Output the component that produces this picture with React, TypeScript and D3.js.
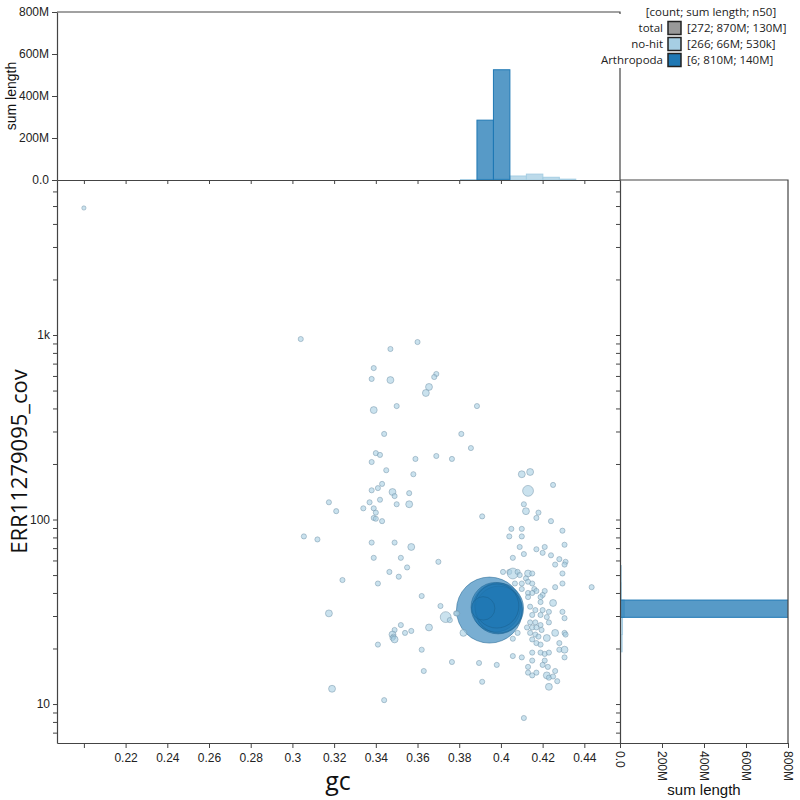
import React, { useEffect, useRef } from 'react';
import * as d3 from 'd3';

// no-hit contigs: [gc, coverage, length (Mb)]
const noHitContigs: [number, number, number][] = [
  [0.2, 4880, 0.1], [0.304, 951, 0.3], [0.347, 840, 0.3], [0.36, 916, 0.3], [0.339, 662, 0.3],
  [0.338, 578, 0.3], [0.347, 570, 1], [0.369, 615, 0.3], [0.368, 592, 0.3], [0.3655, 523, 1],
  [0.364, 485, 1], [0.339, 392, 1], [0.35, 412, 0.3], [0.3885, 412, 0.3], [0.344, 291, 0.3],
  [0.381, 291, 0.3], [0.3856, 244, 0.3], [0.34, 229, 0.3], [0.342, 224, 0.3], [0.338, 205, 0.3],
  [0.359, 213, 0.3], [0.369, 221, 0.3], [0.3765, 213, 0.3], [0.345, 185, 0.3], [0.358, 176, 0.3],
  [0.343, 156, 0.3], [0.341, 148, 0.3], [0.338, 144, 0.3], [0.348, 141, 1], [0.349, 134, 0.3],
  [0.356, 139, 0.3], [0.3175, 124, 0.3], [0.321, 111, 0.3], [0.337, 124, 0.3], [0.342, 128, 0.3],
  [0.334, 115, 0.3], [0.339, 115, 0.3], [0.34, 109, 0.3], [0.339, 102, 0.3], [0.34, 101, 0.3],
  [0.343, 98, 0.3], [0.35, 121, 0.3], [0.356, 121, 1], [0.3055, 81, 0.3], [0.312, 78, 0.3],
  [0.338, 75, 0.3], [0.349, 75, 0.3], [0.357, 71, 1], [0.339, 62, 0.3], [0.352, 62, 0.3],
  [0.37, 59, 0.3], [0.355, 55, 0.3], [0.3465, 52, 0.3], [0.351, 49, 0.3], [0.324, 47, 0.3],
  [0.341, 45, 0.3], [0.362, 38.5, 0.3], [0.371, 34, 0.3], [0.3175, 31, 1], [0.3735, 29.6, 4],
  [0.3755, 28.5, 0.3], [0.3785, 31, 0.3], [0.3655, 26, 1], [0.352, 26.8, 0.3], [0.349, 25.2, 0.3],
  [0.348, 23.8, 1], [0.3485, 23.2, 0.3], [0.348, 22.8, 0.3], [0.349, 22.4, 1], [0.354, 24.3, 0.3],
  [0.357, 24.9, 0.3], [0.341, 21, 0.3], [0.362, 19.7, 0.3], [0.3765, 16.9, 0.3], [0.363, 15.1, 0.3],
  [0.319, 12.1, 1], [0.344, 10.5, 0.3], [0.411, 8.4, 0.3], [0.382, 24.3, 1], [0.379, 31, 0.3],
  [0.3895, 16.7, 0.3], [0.398, 16.3, 0.3], [0.391, 13.2, 0.3],
  [0.41, 176, 1], [0.414, 181, 1], [0.425, 154, 0.3], [0.413, 143, 4], [0.411, 121, 0.3],
  [0.412, 111, 1], [0.418, 109, 0.3], [0.391, 104, 0.3], [0.417, 102, 0.3], [0.424, 98, 0.3],
  [0.405, 89, 0.3], [0.41, 89, 0.3], [0.4295, 87, 0.3], [0.404, 81, 0.3], [0.41, 81, 0.3],
  [0.4305, 73, 0.3], [0.409, 71, 0.3], [0.417, 69, 0.3], [0.421, 71, 0.3], [0.42, 66, 0.3],
  [0.424, 64, 0.3], [0.4057, 62, 0.3], [0.411, 65, 0.3], [0.428, 61, 0.3], [0.431, 59, 0.3],
  [0.4305, 57, 0.3], [0.426, 57, 0.3], [0.401, 52, 0.3], [0.404, 52, 0.3], [0.4057, 51, 4],
  [0.408, 52, 0.3], [0.409, 50, 0.3], [0.413, 51, 1], [0.415, 51, 0.3], [0.412, 48, 0.3],
  [0.413, 46, 0.3], [0.415, 45, 0.3], [0.41, 45, 0.3], [0.4067, 45, 0.3], [0.4295, 51, 0.3],
  [0.4295, 45, 0.3], [0.426, 43, 0.3], [0.4435, 43, 0.3], [0.41, 42, 0.3], [0.416, 42, 0.3],
  [0.417, 41, 0.3], [0.413, 40, 0.3], [0.415, 40, 0.3], [0.421, 41, 0.3], [0.42, 39, 0.3],
  [0.419, 38, 0.3], [0.413, 38, 0.3], [0.419, 35.7, 0.3], [0.425, 35.3, 1], [0.414, 33.7, 0.3],
  [0.4165, 32.3, 0.3], [0.42, 32.3, 0.3], [0.423, 31.6, 0.3], [0.4295, 31.6, 0.3], [0.415, 30.4, 0.3],
  [0.419, 30.4, 0.3], [0.422, 29.6, 0.3], [0.4305, 29.2, 0.3], [0.423, 27.7, 0.3], [0.414, 27.7, 0.3],
  [0.4165, 27.7, 0.3], [0.419, 26.8, 0.3], [0.4125, 26, 0.3], [0.415, 26, 0.3], [0.417, 26, 0.3],
  [0.4195, 25.2, 0.3], [0.426, 24.3, 1], [0.4305, 24.3, 0.3], [0.414, 24.3, 0.3], [0.4165, 23.8, 0.3],
  [0.418, 23.2, 0.3], [0.415, 22.4, 0.3], [0.422, 22.8, 1], [0.417, 21.4, 0.3], [0.419, 21, 0.3],
  [0.428, 21.4, 0.3], [0.428, 19.7, 0.3], [0.4305, 19.7, 1], [0.415, 19, 0.3], [0.419, 19, 0.3],
  [0.421, 18.7, 0.3], [0.423, 19, 0.3], [0.4057, 18.2, 0.3], [0.41, 17.9, 0.3], [0.415, 17.2, 0.3],
  [0.421, 17.2, 0.3], [0.4305, 17.9, 0.3], [0.413, 15.9, 0.3], [0.42, 16.3, 0.3], [0.4225, 15.9, 0.3],
  [0.426, 15.1, 0.3], [0.413, 14.8, 0.3], [0.415, 14.3, 0.3], [0.422, 14.3, 1], [0.423, 13.9, 0.3],
  [0.425, 14.1, 0.3], [0.427, 13.3, 0.3], [0.423, 12.4, 1], [0.417, 14.8, 0.3], [0.4057, 22.6, 0.3],
  [0.408, 24.3, 0.3], [0.431, 23.8, 0.3],
];

// Arthropoda contigs: [gc, coverage, length (Mb)]
const arthropodaContigs: [number, number, number][] = [
  [0.3945, 32.3, 258],
  [0.3915, 33, 27],
  [0.3986, 33, 150],
  [0.3975, 33.5, 140],
  [0.399, 32.5, 125],
  [0.398, 34, 110],
];

// gc histogram (sum length, Mb)
const gcBinStarts = [0.3806, 0.3885, 0.3964, 0.4043, 0.4122, 0.4201, 0.428];
const gcBinWidth = 0.0079;
const gcHistNoHit = [2, 3, 4, 19, 28, 13, 4];
const gcHistArthropoda = [0, 285, 525, 0, 0, 0, 0];

// coverage histogram, bins in log10(cov)
const covBinStarts = [1.1895, 1.283, 1.3765, 1.47, 1.5635, 1.657, 1.7505, 1.844, 1.9375, 2.031];
const covBinWidth = 0.0935;
const covHistNoHit = [3, 10, 12, 20, 7, 6, 2, 2, 1.5, 1.5];
const covHistArthropoda = [0, 0, 0, 810, 0, 0, 0, 0, 0, 0];

const gcTicks = d3.range(10, 23).map((i) => +(i * 0.02).toFixed(2));
const lengthTicks = [0, 200, 400, 600, 800];

const legendRows = [
  { label: 'total', color: '#999999', text: '[272; 870M; 130M]' },
  { label: 'no-hit', color: '#a6cee3', text: '[266; 66M; 530k]' },
  { label: 'Arthropoda', color: '#1f78b4', text: '[6; 810M; 140M]' },
];

const NOHIT = '#a6cee3';
const ARTH = '#1f78b4';
const AXIS = '#444';
const TICK_FONT = '"Liberation Sans", Arial, sans-serif';
const TITLE_FONT = '"Open Sans", sans-serif';

export default function App() {
  const svgRef = useRef<SVGSVGElement>(null);

  useEffect(() => {
    if (!svgRef.current) return;
    const svg = d3.select(svgRef.current);
    svg.selectAll('*').remove();

    const left = 57, right = 620, top = 180, bottom = 743;
    const histTop = 12, histRight = 788;

    const x = d3.scaleLinear().domain([0.1871, 0.4571]).range([left, right]);
    const y = d3.scaleLog().domain([6.15, 6920]).range([bottom, top]);
    const yTop = d3.scaleLinear().domain([0, 800]).range([top, histTop]);
    const xRight = d3.scaleLinear().domain([0, 800]).range([right, histRight]);
    const r = d3.scaleSqrt().domain([0, 258]).range([1.5, 33]);

    const defs = svg.append('defs');
    defs.append('clipPath').attr('id', 'clip-main')
      .append('rect').attr('x', left).attr('y', top).attr('width', right - left).attr('height', bottom - top);
    defs.append('clipPath').attr('id', 'clip-right')
      .append('rect').attr('x', right).attr('y', top).attr('width', histRight - right).attr('height', bottom - top);

    // scatter
    const scatter = svg.append('g').attr('clip-path', 'url(#clip-main)');
    scatter.selectAll('circle.arth')
      .data([...arthropodaContigs].sort((a, b) => b[2] - a[2]))
      .join('circle')
      .attr('class', 'arth')
      .attr('cx', (d) => x(d[0]))
      .attr('cy', (d) => y(d[1]))
      .attr('r', (d) => r(d[2]))
      .attr('fill', ARTH)
      .attr('fill-opacity', 0.6)
      .attr('stroke', '#1a5f8e')
      .attr('stroke-opacity', 0.5)
      .attr('stroke-width', 1);

    scatter.selectAll('circle.nohit')
      .data(noHitContigs)
      .join('circle')
      .attr('class', 'nohit')
      .attr('cx', (d) => x(d[0]))
      .attr('cy', (d) => y(d[1]))
      .attr('r', (d) => r(d[2]))
      .attr('fill', NOHIT)
      .attr('fill-opacity', 0.6)
      .attr('stroke', '#6f8fa5')
      .attr('stroke-opacity', 0.6)
      .attr('stroke-width', 0.8);

    // top histogram
    const topHist = svg.append('g');
    const gcBars = (vals: number[], color: string) =>
      topHist.append('g').selectAll('rect')
        .data(gcBinStarts.map((s, i) => ({ s, v: vals[i] })).filter((d) => d.v > 0))
        .join('rect')
        .attr('x', (d) => x(d.s))
        .attr('width', (d) => x(d.s + gcBinWidth) - x(d.s))
        .attr('y', (d) => yTop(d.v))
        .attr('height', (d) => yTop(0) - yTop(d.v))
        .attr('fill', color)
        .attr('fill-opacity', 0.75)
        .attr('stroke', color)
        .attr('stroke-width', 1);
    gcBars(gcHistNoHit, NOHIT);
    gcBars(gcHistArthropoda, ARTH);

    // right histogram
    const rightHist = svg.append('g').attr('clip-path', 'url(#clip-right)');
    const covBars = (vals: number[], color: string) =>
      rightHist.append('g').selectAll('rect')
        .data(covBinStarts.map((s, i) => ({ s, v: vals[i] })).filter((d) => d.v > 0))
        .join('rect')
        .attr('x', xRight(0))
        .attr('width', (d) => xRight(d.v) - xRight(0))
        .attr('y', (d) => y(Math.pow(10, d.s + covBinWidth)))
        .attr('height', (d) => y(Math.pow(10, d.s)) - y(Math.pow(10, d.s + covBinWidth)))
        .attr('fill', color)
        .attr('fill-opacity', 0.75)
        .attr('stroke', color)
        .attr('stroke-width', 1);
    covBars(covHistNoHit, NOHIT);
    covBars(covHistArthropoda, ARTH);

    // frames of side panels
    const frame = svg.append('g').attr('stroke', AXIS).attr('stroke-width', 1.2).attr('fill', 'none');
    frame.append('path').attr('d', `M${left},${histTop}H${right}V${top}`);
    frame.append('path').attr('d', `M${right},${top}H${histRight}V${bottom}`);

    const styleAxis = (g: d3.Selection<SVGGElement, unknown, null, undefined>) => {
      g.select('.domain').attr('stroke', AXIS).attr('stroke-width', 1.2);
      g.selectAll('.tick line').attr('stroke', AXIS).attr('stroke-width', 1);
      g.selectAll('text').attr('fill', '#222').attr('font-size', 12).attr('font-family', TICK_FONT);
    };

    const logLabel = (d: d3.NumberValue) => {
      const l = Math.log10(+d);
      return Math.abs(l - Math.round(l)) < 1e-9 ? d3.format('~s')(+d) : '';
    };
    const lenLabel = (d: d3.NumberValue) => (+d === 0 ? '0.0' : d + 'M');

    // main x axis
    svg.append('g').attr('transform', `translate(0,${bottom})`)
      .call(d3.axisBottom(x).tickValues(gcTicks).tickSize(5).tickSizeOuter(0).tickPadding(5)
        .tickFormat((d) => (+d === 0.2 ? '' : d3.format('.2~f')(+d))))
      .call(styleAxis);

    // main y axis
    svg.append('g').attr('transform', `translate(${left},0)`)
      .call(d3.axisLeft(y).tickValues(y.ticks()).tickSize(4).tickSizeOuter(0).tickPadding(3).tickFormat(logLabel))
      .call(styleAxis);

    // top histogram axes
    svg.append('g').attr('transform', `translate(${left},0)`)
      .call(d3.axisLeft(yTop).tickValues(lengthTicks).tickSize(5).tickSizeOuter(0).tickPadding(3).tickFormat(lenLabel))
      .call(styleAxis);
    svg.append('g').attr('transform', `translate(0,${top})`)
      .call(d3.axisBottom(x).tickValues(gcTicks).tickSize(4).tickSizeOuter(0).tickFormat(() => ''))
      .call(styleAxis);

    // right histogram axes
    svg.append('g').attr('transform', `translate(${right},0)`)
      .call(d3.axisLeft(y).tickValues(y.ticks()).tickSize(4).tickSizeOuter(0).tickFormat(() => ''))
      .call(styleAxis);
    const rAxis = svg.append('g').attr('transform', `translate(0,${bottom})`)
      .call(d3.axisBottom(xRight).tickValues(lengthTicks).tickSize(5).tickSizeOuter(0).tickFormat(lenLabel))
      .call(styleAxis);
    rAxis.selectAll('text')
      .attr('y', 0).attr('x', 8).attr('dy', '0.35em')
      .attr('transform', 'rotate(90)')
      .style('text-anchor', 'start');

    // axis titles
    svg.append('text').attr('x', 338).attr('y', 790).attr('text-anchor', 'middle')
      .attr('font-family', TITLE_FONT).attr('font-size', 25).attr('fill', '#111').text('gc');
    svg.append('text').attr('transform', `translate(27,${(top + bottom) / 2}) rotate(-90)`)
      .attr('text-anchor', 'middle').attr('font-family', TITLE_FONT).attr('font-size', 22).attr('fill', '#111')
      .text('ERR11279095_cov');
    svg.append('text').attr('transform', `translate(16,${(histTop + top) / 2}) rotate(-90)`)
      .attr('text-anchor', 'middle').attr('font-family', TICK_FONT).attr('font-size', 14).attr('fill', '#111')
      .text('sum length');
    svg.append('text').attr('x', (right + histRight) / 2).attr('y', 795).attr('text-anchor', 'middle')
      .attr('font-family', TICK_FONT).attr('font-size', 15).attr('fill', '#111').text('sum length');

    // legend
    const legend = svg.append('g').attr('font-family', TITLE_FONT).attr('font-size', 11.5).attr('fill', '#222');
    legend.append('rect').attr('x', 598).attr('y', 14).attr('width', 202).attr('height', 54).attr('fill', 'white');
    legend.append('text').attr('x', 711).attr('y', 16).attr('text-anchor', 'middle').text('[count; sum length; n50]');
    legendRows.forEach((row, i) => {
      const cy = 28 + i * 16;
      legend.append('text').attr('x', 663).attr('y', cy + 4).attr('text-anchor', 'end').text(row.label);
      legend.append('rect').attr('x', 668).attr('y', cy - 6.5).attr('width', 13).attr('height', 13)
        .attr('fill', row.color).attr('stroke', '#222').attr('stroke-width', 1.5);
      legend.append('text').attr('x', 687).attr('y', cy + 4).text(row.text);
    });
  }, []);

  return (
    <div style={{ position: 'absolute', left: 0, top: 0, width: 800, height: 800, background: 'white' }}>
      <svg ref={svgRef} width={800} height={800} style={{ display: 'block' }} />
    </div>
  );
}
